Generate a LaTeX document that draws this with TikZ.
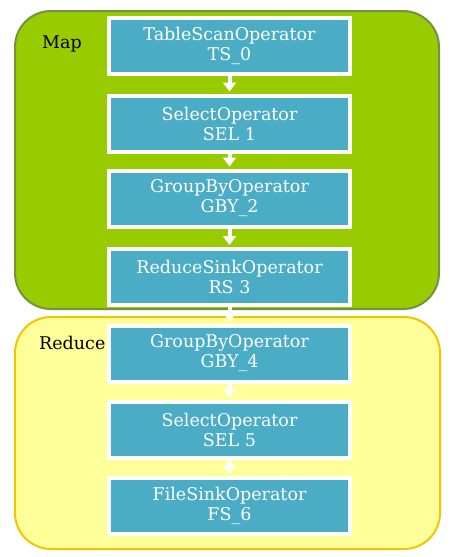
\documentclass[tikz,border=0pt]{standalone}
\usepackage{fontspec}
\setmainfont{DejaVu Serif}
\usetikzlibrary{arrows.meta,shadows}
\definecolor{mapfill}{HTML}{99CC00}
\definecolor{mapedge}{HTML}{76923C}
\definecolor{redfill}{HTML}{FFFF99}
\definecolor{rededge}{HTML}{F2C500}
\definecolor{opfill}{HTML}{4BACC6}
\begin{document}
\begin{tikzpicture}[x=1pt,y=-1pt,
  opbox/.style={draw=white,line width=4pt,fill=opfill,minimum width=241pt,minimum height=56pt,
    inner sep=0pt,align=center,text=white,font=\fontsize{17.5}{20}\selectfont,
    drop shadow={opacity=0.25,shadow xshift=1.5pt,shadow yshift=-1.5pt}},
  flow/.style={draw=white,line width=4pt,-{Triangle[width=13pt,length=9pt]}},
  stagelabel/.style={font=\fontsize{17.5}{20}\selectfont,text=black,inner sep=0pt,anchor=base west}]
\useasboundingbox (0,0) rectangle (453,557);
\fill[white] (0,0) rectangle (453,557);
\draw[fill=mapfill,draw=mapedge,line width=2pt,rounded corners=36pt] (15,11) rectangle (439,309);
\draw[fill=redfill,draw=rededge,line width=2pt,rounded corners=36pt] (15,317) rectangle (440,549);
\node[stagelabel] (maplbl) at (42,48) {Map};
\node[stagelabel] (redlbl) at (39,349) {Reduce};
\node[opbox] (ts) at (229.5,46) {TableScanOperator\\TS\_0};
\node[opbox] (sel1) at (229.5,123.5) {SelectOperator\\SEL 1};
\node[opbox] (gby2) at (229.5,198.5) {GroupByOperator\\GBY\_2};
\node[opbox] (rs3) at (229.5,277) {ReduceSinkOperator\\RS 3};
\node[opbox] (gby4) at (229.5,353.5) {GroupByOperator\\GBY\_4};
\node[opbox] (sel5) at (229.5,429.5) {SelectOperator\\SEL 5};
\node[opbox] (fs6) at (229.5,506) {FileSinkOperator\\FS\_6};
\foreach \a/\b in {ts/sel1,sel1/gby2,gby2/rs3,rs3/gby4,gby4/sel5,sel5/fs6}
  \draw[flow] (\a.south) -- ([yshift=2pt]\b.north);
\end{tikzpicture}
\end{document}
